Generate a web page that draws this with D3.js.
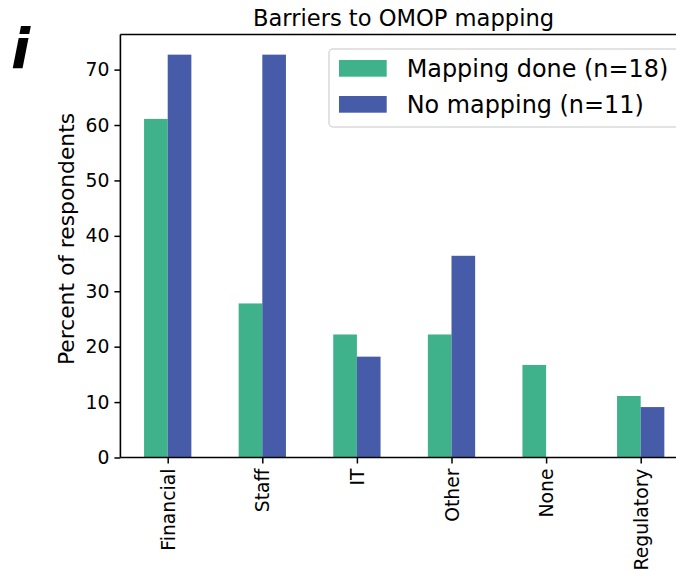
<!DOCTYPE html>
<html>
<head>
<meta charset="utf-8">
<script src="https://cdn.jsdelivr.net/npm/d3@7"></script>
<style>
  html, body { margin: 0; padding: 0; background: #fff; }
  svg { display: block; font-family: "DejaVu Sans", sans-serif; }
</style>
</head>
<body>
<svg id="chart" width="676" height="571"></svg>
<script>
// Barriers to OMOP mapping, share of respondents per group
const categories = ["Financial", "Staff", "IT", "Other", "None", "Regulatory"];
const seriesNames = ["Mapping done (n=18)", "No mapping (n=11)"];
const mappingDone = [61.1, 27.8, 22.2, 22.2, 16.7, 11.1];   // of 18
const noMapping  = [72.7, 72.7, 18.2, 36.4, 0, 9.1];        // of 11
const yTicks = [0, 10, 20, 30, 40, 50, 60, 70];
const colors = ["#3fb28b", "#475ca8"];

const svg = d3.select("#chart");
const plotLeft = 120.4, plotTop = 34.5, plotBottom = 457.5;
const step = 94.6;
const plotRight = plotLeft + step * categories.length;

const x = d3.scaleLinear().domain([-0.5, categories.length - 0.5]).range([plotLeft, plotRight]);
const yMax = d3.max([...mappingDone, ...noMapping]) * 1.05;
const y = d3.scaleLinear().domain([0, yMax]).range([plotBottom, plotTop]);

const series = [mappingDone, noMapping];
const barW = 0.25;

// bars
series.forEach((vals, s) => {
  svg.append("g").selectAll("rect").data(vals).join("rect")
    .attr("x", (d, i) => x(i - barW + s * barW))
    .attr("width", x(barW) - x(0))
    .attr("y", d => y(d))
    .attr("height", d => y(0) - y(d))
    .attr("fill", colors[s]);
});

// y axis
const yAxis = svg.append("g").attr("transform", `translate(${plotLeft},0)`)
  .call(d3.axisLeft(y).tickValues(yTicks).tickSize(6).tickPadding(5));
yAxis.select(".domain").remove();
yAxis.selectAll("line").attr("stroke", "#000").attr("stroke-width", 1.5);
yAxis.selectAll("text").attr("font-size", 18.8).attr("fill", "#000")
  .attr("font-family", "DejaVu Sans");

// x axis
const xAxis = svg.append("g").attr("transform", `translate(0,${plotBottom})`)
  .call(d3.axisBottom(x).tickValues(d3.range(categories.length))
    .tickFormat(i => categories[i]).tickSize(6).tickPadding(5));
xAxis.select(".domain").remove();
xAxis.selectAll("line").attr("stroke", "#000").attr("stroke-width", 1.5);
xAxis.selectAll("text")
  .attr("font-size", 18.8).attr("fill", "#000").attr("font-family", "DejaVu Sans")
  .attr("transform", "rotate(-90)")
  .attr("text-anchor", "end")
  .attr("x", -11).attr("y", 0).attr("dy", "0.35em");

// spines
const spine = svg.append("g").attr("stroke", "#000").attr("stroke-width", 1.6).attr("fill", "none");
spine.append("line").attr("x1", plotLeft).attr("x2", plotLeft).attr("y1", plotTop).attr("y2", plotBottom);
spine.append("line").attr("x1", plotLeft).attr("x2", plotRight).attr("y1", plotBottom).attr("y2", plotBottom);
spine.append("line").attr("x1", plotLeft).attr("x2", plotRight).attr("y1", plotTop).attr("y2", plotTop);
spine.append("line").attr("x1", plotRight).attr("x2", plotRight).attr("y1", plotTop).attr("y2", plotBottom);

// title
svg.append("text").attr("x", 403.5).attr("y", 26)
  .attr("text-anchor", "middle").attr("font-size", 22.6).attr("fill", "#000")
  .text("Barriers to OMOP mapping");

// y label
svg.append("text")
  .attr("transform", `translate(74,239) rotate(-90)`)
  .attr("text-anchor", "middle").attr("font-size", 21.8).attr("fill", "#000")
  .text("Percent of respondents");

// panel letter
svg.append("text").attr("x", 11).attr("y", 68)
  .attr("font-size", 56).attr("font-weight", "bold").attr("font-style", "italic")
  .attr("fill", "#000").text("i");

// legend
const lg = svg.append("g").attr("transform", "translate(329,49)");
lg.append("rect").attr("width", 370).attr("height", 78).attr("rx", 4)
  .attr("fill", "#fff").attr("fill-opacity", 0.8)
  .attr("stroke", "#d9d9d9").attr("stroke-width", 1.5);
seriesNames.forEach((name, s) => {
  lg.append("rect").attr("x", 10).attr("y", 11 + s * 36)
    .attr("width", 47.7).attr("height", 16.7).attr("fill", colors[s]);
  lg.append("text").attr("x", 77.7).attr("y", 19.5 + s * 36).attr("dy", "0.35em")
    .attr("font-size", 23.9).attr("fill", "#000").text(name);
});
</script>
</body>
</html>
